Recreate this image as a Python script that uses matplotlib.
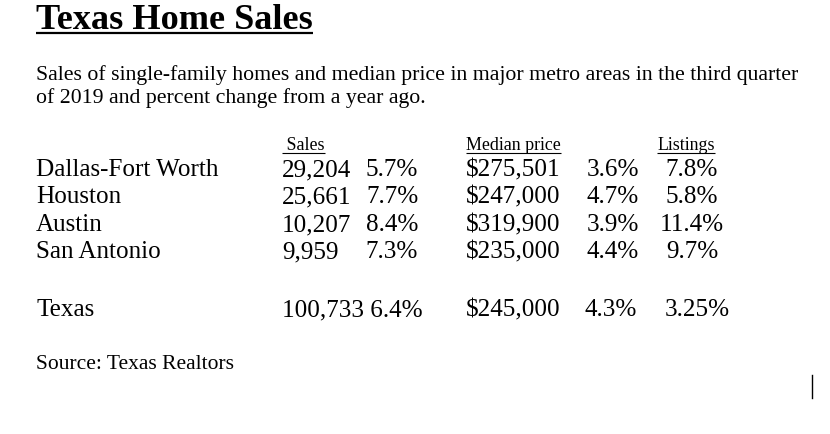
import matplotlib
matplotlib.use("Agg")
import matplotlib.pyplot as plt

# table values
metros = ["Dallas-Fort Worth", "Houston", "Austin", "San Antonio"]
sales = ["29,204", "25,661", "10,207", "9,959"]
sales_chg = ["5.7%", "7.7%", "8.4%", "7.3%"]
prices = ["$275,501", "$247,000", "$319,900", "$235,000"]
price_chg = ["3.6%", "4.7%", "3.9%", "4.4%"]
listings = ["7.8%", "5.8%", "11.4%", "9.7%"]

state_row = ["Texas", "100,733 6.4%", "$245,000", "4.3%", "3.25%"]
headers = [" Sales", "Median price", "Listings"]

title = "Texas Home Sales"
subtitle = ["Sales of single-family homes and median price in major metro areas in the third quarter",
            "of 2019 and percent change from a year ago."]
source = "Source: Texas Realtors"

FONT = "Liberation Serif"
W, H = 830, 434

fig = plt.figure(figsize=(W / 100, H / 100), dpi=100, facecolor="white")
ax = fig.add_axes([0, 0, 1, 1])
ax.set_xlim(0, W)
ax.set_ylim(H, 0)
ax.axis("off")
renderer = fig.canvas.get_renderer()


def fit_size(text, width, weight="normal"):
    # font size giving the wanted pixel width
    t = ax.text(0, 0, text, fontsize=10, family=FONT, fontweight=weight)
    w = t.get_window_extent(renderer).width
    t.remove()
    return 10 * width / w


def underline(t, y, lw):
    bb = t.get_window_extent(renderer)
    ax.plot([bb.x0, bb.x1], [y, y], color="black", lw=lw, solid_capstyle="butt")


body = fit_size(metros[0], 183)
sub = fit_size(subtitle[0], 764)
head = fit_size("Median price", 95)
big = fit_size(title, 278, "bold")
src = fit_size(source, 197)

tt = ax.text(36, 29, title, fontsize=big, family=FONT, fontweight="bold", va="baseline")
underline(tt, 33, 1.6)

for i, line in enumerate(subtitle):
    ax.text(36, 80 + i * 23, line, fontsize=sub, family=FONT, va="baseline")

for x, h in zip([282, 466, 657], headers):
    ht = ax.text(x, 150, h, fontsize=head, family=FONT, va="baseline")
    underline(ht, 152.5, 0.8)

rows_y = [176, 203, 231, 258]
for i, y in enumerate(rows_y):
    ax.text(36, y, metros[i], fontsize=body, family=FONT, va="baseline")
    ax.text(282, y, sales[i], fontsize=body, family=FONT, va="baseline")
    ax.text(392, y, sales_chg[i], fontsize=body, family=FONT, va="baseline", ha="center")
    ax.text(466, y, prices[i], fontsize=body, family=FONT, va="baseline")
    ax.text(639, y, price_chg[i], fontsize=body, family=FONT, va="baseline", ha="right")
    ax.text(692, y, listings[i], fontsize=body, family=FONT, va="baseline", ha="center")

ty = 316
ax.text(36, ty, state_row[0], fontsize=body, family=FONT, va="baseline")
ax.text(282, ty, state_row[1], fontsize=body, family=FONT, va="baseline")
ax.text(466, ty, state_row[2], fontsize=body, family=FONT, va="baseline")
ax.text(637, ty, state_row[3], fontsize=body, family=FONT, va="baseline", ha="right")
ax.text(665, ty, state_row[4], fontsize=body, family=FONT, va="baseline")

ax.text(36, 369, source, fontsize=src, family=FONT, va="baseline")

# text cursor left in the screenshot
ax.plot([812, 812], [375, 398], color="black", lw=1)

fig.savefig("out.png", dpi=100, facecolor="white")
